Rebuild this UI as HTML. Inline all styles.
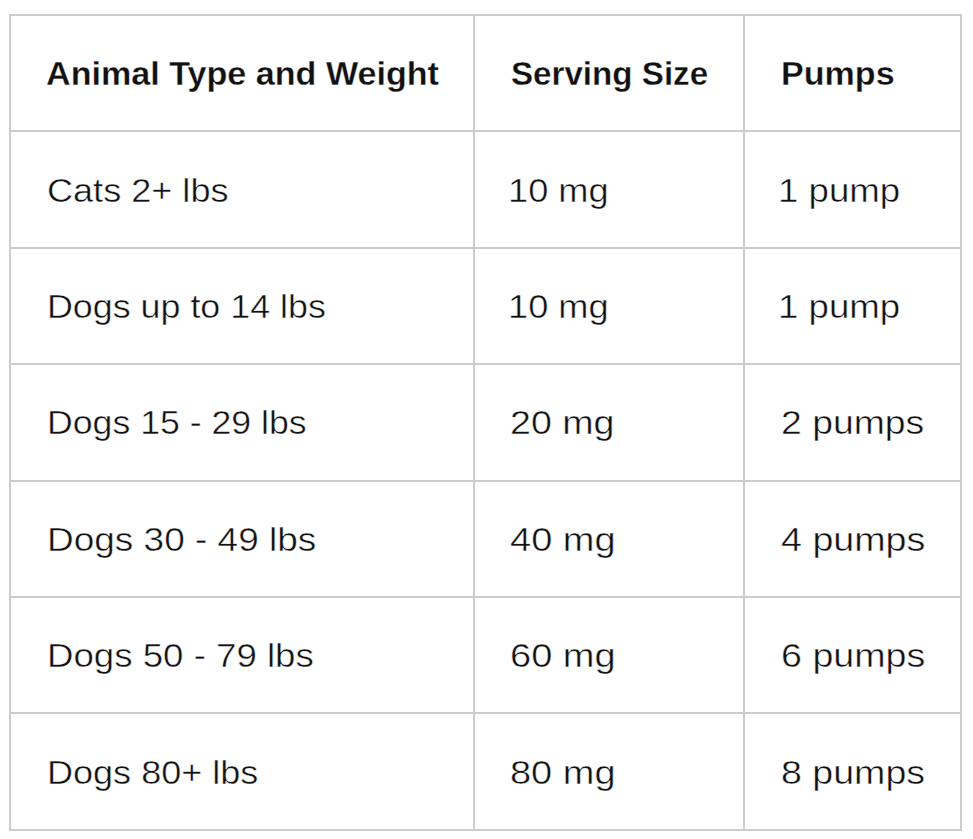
<!DOCTYPE html>
<html><head><meta charset="utf-8"><title>Serving chart</title>
<style>
html,body{margin:0;padding:0;background:#fff;}
body{width:973px;height:839px;position:relative;overflow:hidden;font-family:"Liberation Sans",sans-serif;color:#111111;}
.h,.v{position:absolute;background:#cccccc;}
.t{position:absolute;white-space:nowrap;line-height:1;transform-origin:0 0;display:block;-webkit-text-stroke:0.45px #fff;}
.b{font-weight:700;-webkit-text-stroke:0.3px #fff;}
</style></head><body>
<div class="h" style="left:9px;top:14px;width:953px;height:2px"></div>
<div class="h" style="left:9px;top:130px;width:953px;height:2px"></div>
<div class="h" style="left:9px;top:247px;width:953px;height:2px"></div>
<div class="h" style="left:9px;top:363px;width:953px;height:2px"></div>
<div class="h" style="left:9px;top:480px;width:953px;height:2px"></div>
<div class="h" style="left:9px;top:596px;width:953px;height:2px"></div>
<div class="h" style="left:9px;top:712px;width:953px;height:2px"></div>
<div class="h" style="left:9px;top:829px;width:953px;height:2px"></div>
<div class="v" style="left:9px;top:14px;width:2px;height:817px"></div>
<div class="v" style="left:473px;top:14px;width:2px;height:817px"></div>
<div class="v" style="left:743px;top:14px;width:2px;height:817px"></div>
<div class="v" style="left:960px;top:14px;width:2px;height:817px"></div>
<span class="t b" style="left:46.00px;top:57.30px;font-size:33.90px;transform:scaleX(1.0066)">Animal Type and Weight</span>
<span class="t b" style="left:511.00px;top:57.30px;font-size:33.90px;transform:scaleX(0.9779)">Serving Size</span>
<span class="t b" style="left:781.00px;top:57.30px;font-size:33.90px;transform:scaleX(1.0053)">Pumps</span>
<span class="t" style="left:47.00px;top:174.30px;font-size:33.90px;transform:scaleX(1.0646)">Cats 2+ lbs</span>
<span class="t" style="left:508.00px;top:174.30px;font-size:33.90px;transform:scaleX(1.0681)">10 mg</span>
<span class="t" style="left:778.00px;top:174.30px;font-size:33.90px;transform:scaleX(1.0808)">1 pump</span>
<span class="t" style="left:47.00px;top:290.30px;font-size:33.90px;transform:scaleX(1.0572)">Dogs up to 14 lbs</span>
<span class="t" style="left:508.00px;top:290.30px;font-size:33.90px;transform:scaleX(1.0681)">10 mg</span>
<span class="t" style="left:778.00px;top:290.30px;font-size:33.90px;transform:scaleX(1.0808)">1 pump</span>
<span class="t" style="left:47.00px;top:406.30px;font-size:33.90px;transform:scaleX(1.0523)">Dogs 15 - 29 lbs</span>
<span class="t" style="left:510.00px;top:406.30px;font-size:33.90px;transform:scaleX(1.1094)">20 mg</span>
<span class="t" style="left:781.00px;top:406.30px;font-size:33.90px;transform:scaleX(1.1014)">2 pumps</span>
<span class="t" style="left:47.00px;top:523.30px;font-size:33.90px;transform:scaleX(1.0911)">Dogs 30 - 49 lbs</span>
<span class="t" style="left:510.00px;top:523.30px;font-size:33.90px;transform:scaleX(1.1215)">40 mg</span>
<span class="t" style="left:781.00px;top:523.30px;font-size:33.90px;transform:scaleX(1.1104)">4 pumps</span>
<span class="t" style="left:47.00px;top:639.30px;font-size:33.90px;transform:scaleX(1.0810)">Dogs 50 - 79 lbs</span>
<span class="t" style="left:510.00px;top:639.30px;font-size:33.90px;transform:scaleX(1.1217)">60 mg</span>
<span class="t" style="left:781.00px;top:639.30px;font-size:33.90px;transform:scaleX(1.1103)">6 pumps</span>
<span class="t" style="left:47.00px;top:756.30px;font-size:33.90px;transform:scaleX(1.0633)">Dogs 80+ lbs</span>
<span class="t" style="left:510.00px;top:756.30px;font-size:33.90px;transform:scaleX(1.1201)">80 mg</span>
<span class="t" style="left:781.00px;top:756.30px;font-size:33.90px;transform:scaleX(1.1082)">8 pumps</span>
</body></html>
